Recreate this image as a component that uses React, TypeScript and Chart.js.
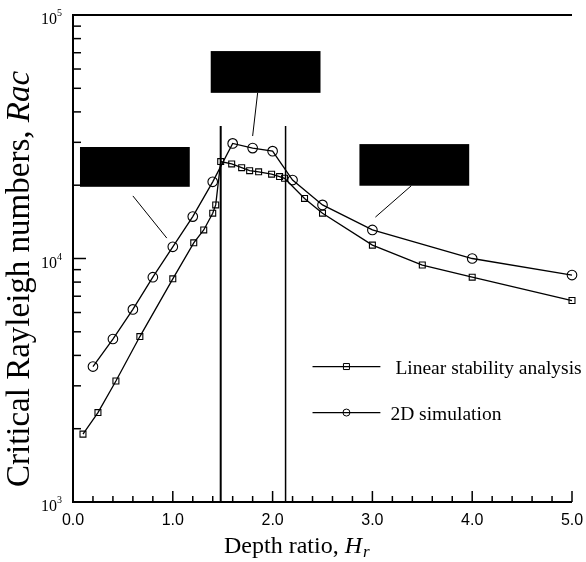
import React, { useEffect, useRef } from 'react';
import { Chart, registerables } from 'chart.js';

Chart.register(...registerables);

// Linear stability analysis (square markers)
const depthLinear = [0.1, 0.25, 0.43, 0.67, 1.0, 1.21, 1.31, 1.4, 1.43, 1.48, 1.59, 1.69, 1.77, 1.86, 1.99, 2.07, 2.12, 2.32, 2.5, 3.0, 3.5, 4.0, 5.0];
const racLinear = [1900, 2330, 3140, 4780, 8250, 11600, 13100, 15350, 16600, 25000, 24450, 23600, 22950, 22700, 22200, 21700, 21350, 17650, 15350, 11350, 9400, 8380, 6720];

// 2D simulation (circle markers)
const depthSim = [0.2, 0.4, 0.6, 0.8, 1.0, 1.2, 1.4, 1.6, 1.8, 2.0, 2.2, 2.5, 3.0, 4.0, 5.0];
const racSim = [3600, 4670, 6180, 8380, 11170, 14860, 20650, 29700, 28400, 27600, 21000, 16600, 13100, 10000, 8550];

const seriesNames = ['Linear stability analysis', '2D simulation'];
const xTickValues = [0, 1, 2, 3, 4, 5];
const xTickLabels = ['0.0', '1.0', '2.0', '3.0', '4.0', '5.0'];
const yDecades = [3, 4, 5];

// Regime boundaries (depth ratio) and the Rac at which their lines stop
const regimeBounds = [1.48, 2.13];
const boundTop = 35000;

// Label boxes in data coordinates: [x0, x1, yTop, yBottom]
const labelBoxes = [
  [0.07, 1.17, 28700, 19700],
  [1.38, 2.48, 71100, 47900],
  [2.87, 3.97, 29500, 19900],
];
// Leader lines from the boxes to the curves: [x0, y0, x1, y1]
const leaders = [
  [0.6, 18070, 0.94, 12130],
  [1.85, 47900, 1.8, 31840],
  [3.39, 19900, 3.03, 14790],
];

const SERIF = '"Liberation Serif", "Times New Roman", serif';
const SANS = '"Liberation Sans", Arial, sans-serif';

const framePlugin = {
  id: 'frame',
  beforeDatasetsDraw(chart: any) {
    const { ctx, chartArea: a, scales } = chart;
    const xs = scales.x;
    const ys = scales.y;
    ctx.save();
    ctx.strokeStyle = '#000';
    // regime boundaries
    regimeBounds.forEach((b, i) => {
      ctx.lineWidth = i === 0 ? 2 : 1.5;
      const px = xs.getPixelForValue(b);
      ctx.beginPath();
      ctx.moveTo(px, ys.getPixelForValue(boundTop));
      ctx.lineTo(px, a.bottom);
      ctx.stroke();
    });
    ctx.restore();
  },
  afterDraw(chart: any) {
    const { ctx, chartArea: a, scales } = chart;
    const xs = scales.x;
    const ys = scales.y;
    ctx.save();
    ctx.strokeStyle = '#000';
    ctx.fillStyle = '#000';

    // frame: left, bottom, top
    ctx.lineWidth = 2;
    ctx.beginPath();
    ctx.moveTo(a.right, a.top);
    ctx.lineTo(a.left, a.top);
    ctx.lineTo(a.left, a.bottom);
    ctx.lineTo(a.right, a.bottom);
    ctx.stroke();

    // x ticks (inward)
    ctx.lineWidth = 1.5;
    for (let k = 0; k <= 25; k++) {
      const v = k * 0.2;
      const px = xs.getPixelForValue(v);
      const major = k % 5 === 0;
      ctx.beginPath();
      ctx.moveTo(px, a.bottom);
      ctx.lineTo(px, a.bottom - (major ? 11 : 6));
      ctx.stroke();
    }
    // y ticks (inward), log minors
    for (let d = yDecades[0]; d < yDecades[yDecades.length - 1]; d++) {
      for (let m = 1; m <= 9; m++) {
        const py = ys.getPixelForValue(m * Math.pow(10, d));
        ctx.beginPath();
        ctx.moveTo(a.left, py);
        ctx.lineTo(a.left + (m === 1 ? 13 : 8), py);
        ctx.stroke();
      }
    }

    // x tick labels
    ctx.font = `16px ${SANS}`;
    ctx.textAlign = 'center';
    ctx.textBaseline = 'alphabetic';
    xTickValues.forEach((v, i) => {
      ctx.fillText(xTickLabels[i], xs.getPixelForValue(v), a.bottom + 23);
    });

    // y tick labels: 10^n
    yDecades.forEach((d) => {
      const py = ys.getPixelForValue(Math.pow(10, d));
      ctx.textAlign = 'right';
      ctx.font = `16px ${SERIF}`;
      ctx.fillText('10', a.left - 16, py + 9);
      ctx.textAlign = 'left';
      ctx.font = `10px ${SERIF}`;
      ctx.fillText(String(d), a.left - 16, py + 1);
    });

    // x axis title
    const baseX = `24px ${SERIF}`;
    const itX = `italic 24px ${SERIF}`;
    const subX = `italic 17px ${SERIF}`;
    ctx.textAlign = 'left';
    ctx.font = baseX;
    const t1 = 'Depth ratio, ';
    const w1 = ctx.measureText(t1).width;
    ctx.font = itX;
    const w2 = ctx.measureText('H').width;
    const sx = 224;
    const by = 553;
    ctx.font = baseX;
    ctx.fillText(t1, sx, by);
    ctx.font = itX;
    ctx.fillText('H', sx + w1, by);
    ctx.font = subX;
    ctx.fillText('r', sx + w1 + w2 + 1, by + 4);

    // y axis title (rotated)
    ctx.save();
    ctx.translate(29, 279);
    ctx.rotate(-Math.PI / 2);
    const baseY = `33px ${SERIF}`;
    const itY = `italic 33px ${SERIF}`;
    ctx.font = baseY;
    const y1 = 'Critical Rayleigh numbers, ';
    const yw1 = ctx.measureText(y1).width;
    ctx.font = itY;
    const yw2 = ctx.measureText('Rac').width;
    const ys0 = -(yw1 + yw2) / 2;
    ctx.font = baseY;
    ctx.fillText(y1, ys0, 0);
    ctx.font = itY;
    ctx.fillText('Rac', ys0 + yw1, 0);
    ctx.restore();

    // label boxes and leaders
    ctx.lineWidth = 1;
    leaders.forEach(([x0, y0, x1, y1]) => {
      ctx.beginPath();
      ctx.moveTo(xs.getPixelForValue(x0), ys.getPixelForValue(y0));
      ctx.lineTo(xs.getPixelForValue(x1), ys.getPixelForValue(y1));
      ctx.stroke();
    });
    labelBoxes.forEach(([x0, x1, yt, yb]) => {
      const l = xs.getPixelForValue(x0);
      const r = xs.getPixelForValue(x1);
      const t = ys.getPixelForValue(yt);
      const b = ys.getPixelForValue(yb);
      ctx.fillRect(l, t, r - l, b - t);
    });

    // legend
    const legendX0 = xs.getPixelForValue(2.4);
    const legendX1 = xs.getPixelForValue(3.08);
    const legendRows = [ys.getPixelForValue(3600), ys.getPixelForValue(2330)];
    ctx.font = `19.5px ${SERIF}`;
    ctx.textBaseline = 'middle';
    ctx.textAlign = 'left';
    chart.data.datasets.forEach((ds: any, i: number) => {
      const ly = legendRows[i];
      ctx.lineWidth = 1.3;
      ctx.beginPath();
      ctx.moveTo(legendX0, ly);
      ctx.lineTo(legendX1, ly);
      ctx.stroke();
      const mx = (legendX0 + legendX1) / 2;
      ctx.lineWidth = 1;
      ctx.beginPath();
      if (ds.pointStyle === 'rect') {
        ctx.rect(mx - 3, ly - 3, 6, 6);
      } else {
        ctx.arc(mx, ly, 3.5, 0, Math.PI * 2);
      }
      ctx.stroke();
      ctx.fillText(ds.label, legendX1 + (i === 0 ? 15 : 10), ly + 2);
    });
    ctx.restore();
  },
};

export default function App() {
  const canvasRef = useRef<HTMLCanvasElement>(null);

  useEffect(() => {
    const canvas = canvasRef.current;
    if (!canvas) return;
    const chart = new Chart(canvas, {
      type: 'line',
      data: {
        datasets: [
          {
            label: seriesNames[0],
            data: depthLinear.map((x, i) => ({ x, y: racLinear[i] })),
            borderColor: '#000',
            borderWidth: 1.3,
            pointStyle: 'rect',
            pointRadius: 4.2,
            pointBorderWidth: 1.1,
            pointBorderColor: '#000',
            pointBackgroundColor: 'rgba(255,255,255,0)',
            tension: 0,
            clip: false,
          },
          {
            label: seriesNames[1],
            data: depthSim.map((x, i) => ({ x, y: racSim[i] })),
            borderColor: '#000',
            borderWidth: 1.3,
            pointStyle: 'circle',
            pointRadius: 4.8,
            pointBorderWidth: 1.1,
            pointBorderColor: '#000',
            pointBackgroundColor: 'rgba(255,255,255,0)',
            tension: 0,
            clip: false,
          },
        ] as any,
      },
      options: {
        animation: false,
        responsive: false,
        devicePixelRatio: 1,
        layout: { padding: { left: 73, right: 14, top: 15, bottom: 60 } },
        scales: {
          x: { type: 'linear', min: 0, max: 5, display: false },
          y: { type: 'logarithmic', min: 1000, max: 100000, display: false },
        },
        plugins: {
          legend: { display: false },
          tooltip: { enabled: false },
        },
      },
      plugins: [framePlugin],
    });
    return () => chart.destroy();
  }, []);

  return (
    <div style={{ position: 'absolute', left: 0, top: 0, width: 586, height: 562, background: '#fff' }}>
      <canvas ref={canvasRef} width={586} height={562} />
    </div>
  );
}
